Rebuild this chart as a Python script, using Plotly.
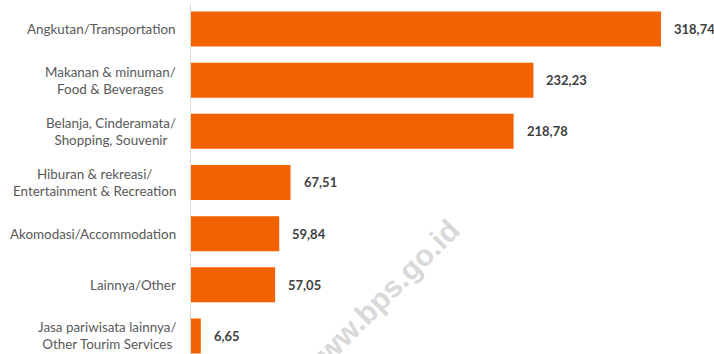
import plotly.graph_objects as go

categories = [
    "Angkutan/Transportation",
    "Makanan & minuman/<br>Food & Beverages",
    "Belanja, Cinderamata/<br>Shopping, Souvenir",
    "Hiburan & rekreasi/<br>Entertainment & Recreation",
    "Akomodasi/Accommodation",
    "Lainnya/Other",
    "Jasa pariwisata lainnya/<br>Other Tourim Services",
]
values = [318.74, 232.23, 218.78, 67.51, 59.84, 57.05, 6.65]
value_labels = [f"{v:.2f}".replace(".", ",") for v in values]

BAR_COLOR = "#F46100"
LABEL_FONT = "Lato"

fig = go.Figure(
    go.Bar(
        x=values,
        y=categories,
        orientation="h",
        marker=dict(color=BAR_COLOR, line=dict(width=0)),
        hoverinfo="skip",
    )
)

annotations = []
for cat, v, lab in zip(categories, values, value_labels):
    annotations.append(dict(
        x=v, y=cat, xref="x", yref="y", text=lab, showarrow=False,
        xanchor="left", yanchor="middle", xshift=11,
        font=dict(family=LABEL_FONT, size=13, color="#404040", weight="bold"),
    ))
    annotations.append(dict(
        x=0, y=cat, xref="x", yref="y", text=cat, showarrow=False,
        xanchor="right", yanchor="middle", xshift=-13, align="center",
        font=dict(family=LABEL_FONT, size=13.4, color="#595959"),
    ))

W, H = 714, 354
ML, MR, MT, MB = 191, 0, 4, 0
pw, ph = W - ML - MR, H - MT - MB

annotations.append(dict(
    x=(379 - ML) / pw, y=1 - (299 - MT) / ph, xref="paper", yref="paper",
    text="www.bps.go.id",
    showarrow=False, textangle=-45, xanchor="center", yanchor="middle",
    font=dict(family="Liberation Sans", size=30, color="#d9d9d9", weight="bold"),
))

fig.update_layout(
    width=W, height=H,
    margin=dict(l=ML, r=MR, t=MT, b=MB, pad=0),
    paper_bgcolor="white", plot_bgcolor="white",
    showlegend=False,
    bargap=0.316,
    xaxis=dict(range=[0, 354.7], visible=False, fixedrange=True),
    yaxis=dict(
        range=[6.352, -0.4886], showticklabels=False, ticks="",
        showgrid=False, zeroline=False,
        showline=True, linecolor="#d9d9d9", linewidth=1,
        categoryorder="array", categoryarray=categories,
    ),
    annotations=annotations,
)

fig.write_html("out.html")
